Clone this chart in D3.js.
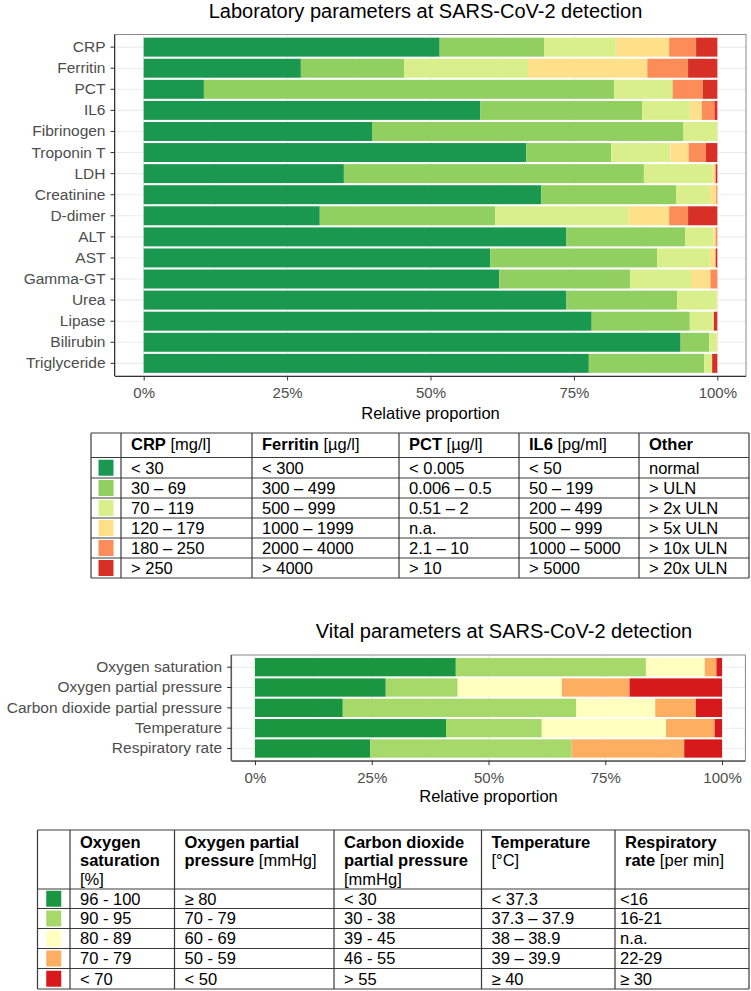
<!DOCTYPE html>
<html><head><meta charset="utf-8">
<script src="https://cdn.jsdelivr.net/npm/d3@7"></script>
<style>
body{margin:0;background:#fff}
svg{display:block;font-family:"Liberation Sans",Arial,Helvetica,sans-serif}
</style>
</head><body><svg id="c" width="751" height="991"></svg>
<script>
// ---------- DATA ----------
const labCategories = ["CRP","Ferritin","PCT","IL6","Fibrinogen","Troponin T","LDH","Creatinine","D-dimer","ALT","AST","Gamma-GT","Urea","Lipase","Bilirubin","Triglyceride"];
const labColors = ["#1a9850","#91cf60","#d9ef8b","#fee08b","#fc8d59","#d73027"];
// percent per class (green -> red)
const labValues = [
  [51.6,18.2,12.5, 9.3,4.7,3.7],
  [27.4,18.0,21.6,20.8,7.1,5.1],
  [10.5,71.5,10.2, 0.0,5.3,2.5],
  [58.7,28.2, 8.3, 2.1,2.2,0.5],
  [39.8,54.3, 5.9, 0.0,0.0,0.0],
  [66.7,14.8,10.3, 3.2,3.0,2.0],
  [34.9,52.3,11.9, 0.6,0.0,0.3],
  [69.3,23.5, 5.9, 1.1,0.2,0.0],
  [30.7,30.6,23.2, 7.1,3.3,5.1],
  [73.7,20.7, 4.9, 0.4,0.3,0.0],
  [60.4,29.1, 9.2, 1.0,0.0,0.3],
  [62.0,22.8,10.6, 3.4,1.2,0.0],
  [73.7,19.3, 6.8, 0.2,0.0,0.0],
  [78.1,17.1, 4.0, 0.2,0.0,0.6],
  [93.6, 5.0, 1.2, 0.2,0.0,0.0],
  [77.6,20.1, 1.4, 0.0,0.0,0.9]
];
const vitalCategories = ["Oxygen saturation","Oxygen partial pressure","Carbon dioxide partial pressure","Temperature","Respiratory rate"];
const vitalColors = ["#1a9641","#a6d96a","#ffffbf","#fdae61","#d7191c"];
const vitalValues = [
  [43.0,40.7,12.6, 2.5, 1.2],
  [28.0,15.4,22.3,14.5,19.8],
  [18.8,50.0,16.9, 8.7, 5.6],
  [40.9,20.5,26.6,10.4, 1.6],
  [24.7,43.1, 0.0,24.1, 8.1]
];
const xTicks = [0,0.25,0.5,0.75,1];
const xMinor = [0.125,0.375,0.625,0.875];
const labTitle = "Laboratory parameters at SARS-CoV-2 detection";
const vitalTitle = "Vital parameters at SARS-CoV-2 detection";
const axisTitle = "Relative proportion";

// table 1 : header = [bold, normal]
const table1Header = [["CRP"," [mg/l]"],["Ferritin"," [µg/l]"],["PCT"," [µg/l]"],["IL6"," [pg/ml]"],["Other",""]];
const table1Rows = [
  ["< 30","< 300","< 0.005","< 50","normal"],
  ["30 – 69","300 – 499","0.006 – 0.5","50 – 199","> ULN"],
  ["70 – 119","500 – 999","0.51 – 2","200 – 499","> 2x ULN"],
  ["120 – 179","1000 – 1999","n.a.","500 – 999","> 5x ULN"],
  ["180 – 250","2000 – 4000","2.1 – 10","1000 – 5000","> 10x ULN"],
  ["> 250","> 4000","> 10","> 5000","> 20x ULN"]
];
// table 2 : header lines, each line = list of [text, bold]
const table2Header = [
  [[["Oxygen",1]],[["saturation",1]],[["[%]",0]]],
  [[["Oxygen partial",1]],[["pressure",1],[" [mmHg]",0]]],
  [[["Carbon dioxide",1]],[["partial pressure",1]],[["[mmHg]",0]]],
  [[["Temperature",1]],[["[°C]",0]]],
  [[["Respiratory",1]],[["rate",1],[" [per min]",0]]]
];
const table2Rows = [
  ["96 - 100","≥ 80","< 30","< 37.3","<16"],
  ["90 - 95","70 - 79","30 - 38","37.3 – 37.9","16-21"],
  ["80 - 89","60 - 69","39 - 45","38 – 38.9","n.a."],
  ["70 - 79","50 - 59","46 - 55","39 – 39.9","22-29"],
  ["< 70","< 50","> 55","≥ 40","≥ 30"]
];

// ---------- DRAW ----------
const svg = d3.select("#c");

function drawChart(cfg){
  const {cats, values, colors, left, right, top, bottom, title, titleX, titleY, axisTitleY, tickPad} = cfg;
  const g = svg.append("g");
  const exp = (right-left)*0.05/1.1;
  const x = d3.scaleLinear().domain([0,1]).range([left+exp, right-exp]);
  const y = d3.scaleBand().domain(cats).range([top,bottom]).paddingInner(0.1).paddingOuter(0.15);

  // grid
  g.append("rect").attr("x",left).attr("y",top).attr("width",right-left).attr("height",bottom-top).attr("fill","#fff");
  g.selectAll(".gmin").data(xMinor).join("line")
    .attr("x1",d=>x(d)).attr("x2",d=>x(d)).attr("y1",top).attr("y2",bottom)
    .attr("stroke","#f3f3f3").attr("stroke-width",0.6);
  g.selectAll(".gmaj").data(xTicks).join("line")
    .attr("x1",d=>x(d)).attr("x2",d=>x(d)).attr("y1",top).attr("y2",bottom)
    .attr("stroke","#ebebeb").attr("stroke-width",1.1);
  g.selectAll(".gh").data(cats).join("line")
    .attr("x1",left).attr("x2",right).attr("y1",d=>y(d)+y.bandwidth()/2).attr("y2",d=>y(d)+y.bandwidth()/2)
    .attr("stroke","#ebebeb").attr("stroke-width",1.1);

  // stacked bars
  const keys = colors.map((c,i)=>i);
  const rows = cats.map((c,i)=>{const o={cat:c}; values[i].forEach((v,j)=>o[j]=v/100); return o;});
  const series = d3.stack().keys(keys)(rows);
  series.forEach((s,si)=>{
    g.append("g").attr("fill",colors[si]).selectAll("rect").data(s).join("rect")
      .attr("x",d=>x(d[0])).attr("width",d=>Math.max(0,x(d[1])-x(d[0])))
      .attr("y",d=>y(d.data.cat)).attr("height",y.bandwidth());
  });

  // panel border
  g.append("rect").attr("x",left).attr("y",top).attr("width",right-left).attr("height",bottom-top)
    .attr("fill","none").attr("stroke","#8a8a8a").attr("stroke-width",1);

  // axes
  const ax = g.append("g").attr("transform",`translate(0,${bottom})`)
    .call(d3.axisBottom(x).tickValues(xTicks).tickFormat(d3.format(".0%")).tickSize(4.5).tickPadding(tickPad));
  ax.select(".domain").attr("stroke","#333");
  ax.selectAll(".tick line").attr("stroke","#333");
  ax.selectAll("text").attr("fill","#4d4d4d").style("font-size","15px").style("font-family","'Liberation Sans',Arial,sans-serif");
  const ay = g.append("g").attr("transform",`translate(${left},0)`)
    .call(d3.axisLeft(y).tickSize(4.5).tickPadding(5));
  ay.select(".domain").attr("stroke","#333");
  ay.selectAll(".tick line").attr("stroke","#333");
  ay.selectAll("text").attr("fill","#4d4d4d").style("font-size","15.5px").style("font-family","'Liberation Sans',Arial,sans-serif");
  ax.select(".domain").attr("d",`M${left},0.5H${right}`);
  ay.select(".domain").attr("d",`M-0.5,${top}V${bottom}`);

  g.append("text").attr("x",titleX).attr("y",titleY).attr("text-anchor","middle")
    .style("font-size","20px").attr("fill","#000").text(title);
  g.append("text").attr("x",(left+right)/2).attr("y",axisTitleY).attr("text-anchor","middle")
    .style("font-size","16.5px").attr("fill","#000").text(axisTitle);
}

drawChart({cats:labCategories, values:labValues, colors:labColors,
  left:115, right:746, top:34.5, bottom:376, title:labTitle, titleX:425.5, titleY:17.5, axisTitleY:418.5, tickPad:6.9});
drawChart({cats:vitalCategories, values:vitalValues, colors:vitalColors,
  left:231.6, right:745.4, top:655, bottom:760.7, title:vitalTitle, titleX:504, titleY:637.5, axisTitleY:801.5, tickPad:7.1});

function drawTable(cfg){
  const {colX, rowY, colors, header, rows, headerBaselines, fs, sqW, sqH, bodyPad} = cfg;
  const g = svg.append("g").style("font-size",fs+"px");
  const L = colX[0], R = colX[colX.length-1], T = rowY[0], B = rowY[rowY.length-1];
  // color squares
  rows.forEach((r,i)=>{
    const cy = (rowY[i+1]+rowY[i+2])/2, cx = (colX[0]+colX[1])/2;
    g.append("rect").attr("x",cx-sqW/2).attr("y",cy-sqH/2).attr("width",sqW).attr("height",sqH).attr("fill",colors[i]);
  });
  // header
  header.forEach((h,j)=>{
    const lines = cfg.multiline ? h : [[[h[0],1],[h[1],0]]];
    lines.forEach((line,li)=>{
      const t = g.append("text").attr("x",colX[j+1]+10).attr("y",headerBaselines[li]).attr("fill","#000");
      line.forEach(([txt,b])=>{ if(txt) t.append("tspan").attr("font-weight",b?"bold":"normal").text(txt); });
    });
  });
  // body
  rows.forEach((r,i)=>{
    const base = (rowY[i+1]+rowY[i+2])/2 + fs*0.35;
    r.forEach((txt,j)=>{
      g.append("text").attr("x",colX[j+1]+bodyPad[j]).attr("y",base).attr("fill","#000").text(txt);
    });
  });
  // lines
  const ln = "#3a3a3a";
  rowY.forEach(yv=>g.append("line").attr("x1",L).attr("x2",R).attr("y1",yv).attr("y2",yv).attr("stroke",ln).attr("stroke-width",1.2));
  colX.forEach(xv=>g.append("line").attr("x1",xv).attr("x2",xv).attr("y1",T).attr("y2",B).attr("stroke",ln).attr("stroke-width",1.2));
}

drawTable({colX:[91,121,252,399,519,639,749], rowY:[433,457.5,478,498,518,538,558,578],
  colors:labColors, header:table1Header, rows:table1Rows, headerBaselines:[449.5], fs:16.5,
  sqW:15, sqH:16, bodyPad:[10,10,10,10,10], multiline:false});
drawTable({colX:[37.5,70,174.5,334,481.5,615,749], rowY:[830,889,908.5,928.5,948.5,968.5,989],
  colors:vitalColors, header:table2Header, rows:table2Rows, headerBaselines:[847.5,866,884.5], fs:16.5,
  sqW:15, sqH:16, bodyPad:[10,10,10,10,5], multiline:true});
</script>
</body></html>
